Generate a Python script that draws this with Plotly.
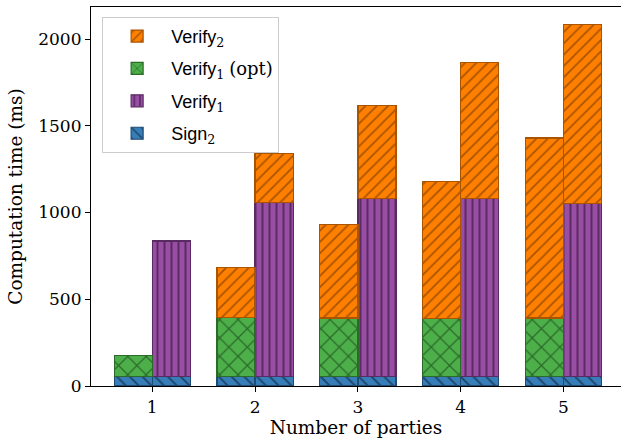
import plotly.graph_objects as go

parties = [1, 2, 3, 4, 5]
sign2 = [55, 55, 55, 55, 55]
verify1_opt = [122, 338, 337, 335, 337]
verify1 = [781, 1003, 1026, 1026, 995]
verify2_left = [None, 290, 541, 789, 1038]
verify2_right = [None, 282, 534, 786, 1032]
y_ticks = [0, 500, 1000, 1500, 2000]

offset = 0.185
bar_w = 0.37
x_left = [p - offset for p in parties]
x_right = [p + offset for p in parties]

SERIF = "DejaVu Serif"
SANS = "Liberation Sans"

def lab(name, sub, extra=""):
    s = f"{name}<sub><span style='font-family:{SERIF}'>{sub}</span></sub>"
    if extra:
        s += f" <span style='font-family:{SERIF}'>{extra}</span>"
    return s

styles = {
    "sign2": dict(fill="#377eb8", edge="#1f4a72", shape="\\", size=9, sol=0.22),
    "v1": dict(fill="#984ea3", edge="#5a2a62", shape="|", size=7, sol=0.28),
    "v1opt": dict(fill="#4daf4a", edge="#2b6a29", shape="x", size=13, sol=0.18),
    "v2": dict(fill="#ff7f00", edge="#a85400", shape="/", size=8, sol=0.22),
}

def marker(k):
    s = styles[k]
    return dict(color=s["fill"], line=dict(color=s["edge"], width=1.2),
                pattern=dict(shape=s["shape"], fgcolor=s["edge"], bgcolor=s["fill"],
                             size=s["size"], solidity=s["sol"], fillmode="replace"))

fig = go.Figure()
fig.add_trace(go.Bar(x=x_left + x_right, y=sign2 + sign2, width=bar_w, legendrank=4,
                     legendgroup="d", name=lab("Sign", "2"), marker=marker("sign2")))
fig.add_trace(go.Bar(x=x_right, y=verify1, width=bar_w, legendrank=3,
                     legendgroup="c", name=lab("Verify", "1"), marker=marker("v1")))
fig.add_trace(go.Bar(x=x_left, y=verify1_opt, width=bar_w, legendrank=2,
                     legendgroup="b", name=lab("Verify", "1", "(opt)"), marker=marker("v1opt")))
fig.add_trace(go.Bar(x=x_left + x_right, y=verify2_left + verify2_right, width=bar_w,
                     legendrank=1, legendgroup="a", name=lab("Verify", "2"), marker=marker("v2")))

fig.update_layout(
    width=621, height=444,
    barmode="stack",
    plot_bgcolor="white", paper_bgcolor="white",
    margin=dict(l=91, r=0, t=7, b=58),
    font=dict(family=SERIF, size=17, color="black"),
    xaxis=dict(range=[0.404, 5.559], tickvals=parties, ticktext=[str(p) for p in parties],
               ticks="outside", ticklen=5, tickwidth=1.2, tickcolor="black",
               showline=True, linecolor="black", linewidth=1.2, mirror=True,
               showgrid=False, zeroline=False, automargin=False,
               title=dict(text="Number of parties", font=dict(size=18.5), standoff=5)),
    yaxis=dict(range=[0, 2185], tickvals=y_ticks,
               ticks="outside", ticklen=5, tickwidth=1.2, tickcolor="black",
               showline=True, linecolor="black", linewidth=1.2,
               showgrid=False, zeroline=False, automargin=False,
               title=dict(text="Computation time (ms)", font=dict(size=18.5), standoff=10)),
    legend=dict(x=0.021, y=0.974, xanchor="left", yanchor="top",
                traceorder="grouped", tracegroupgap=6,
                bgcolor="rgba(255,255,255,0.85)", bordercolor="#cccccc", borderwidth=1,
                font=dict(family=SANS, size=18), itemwidth=58),
)

fig.write_html("out.html", config={"displayModeBar": False},
               post_script="document.body.style.margin='0';")
